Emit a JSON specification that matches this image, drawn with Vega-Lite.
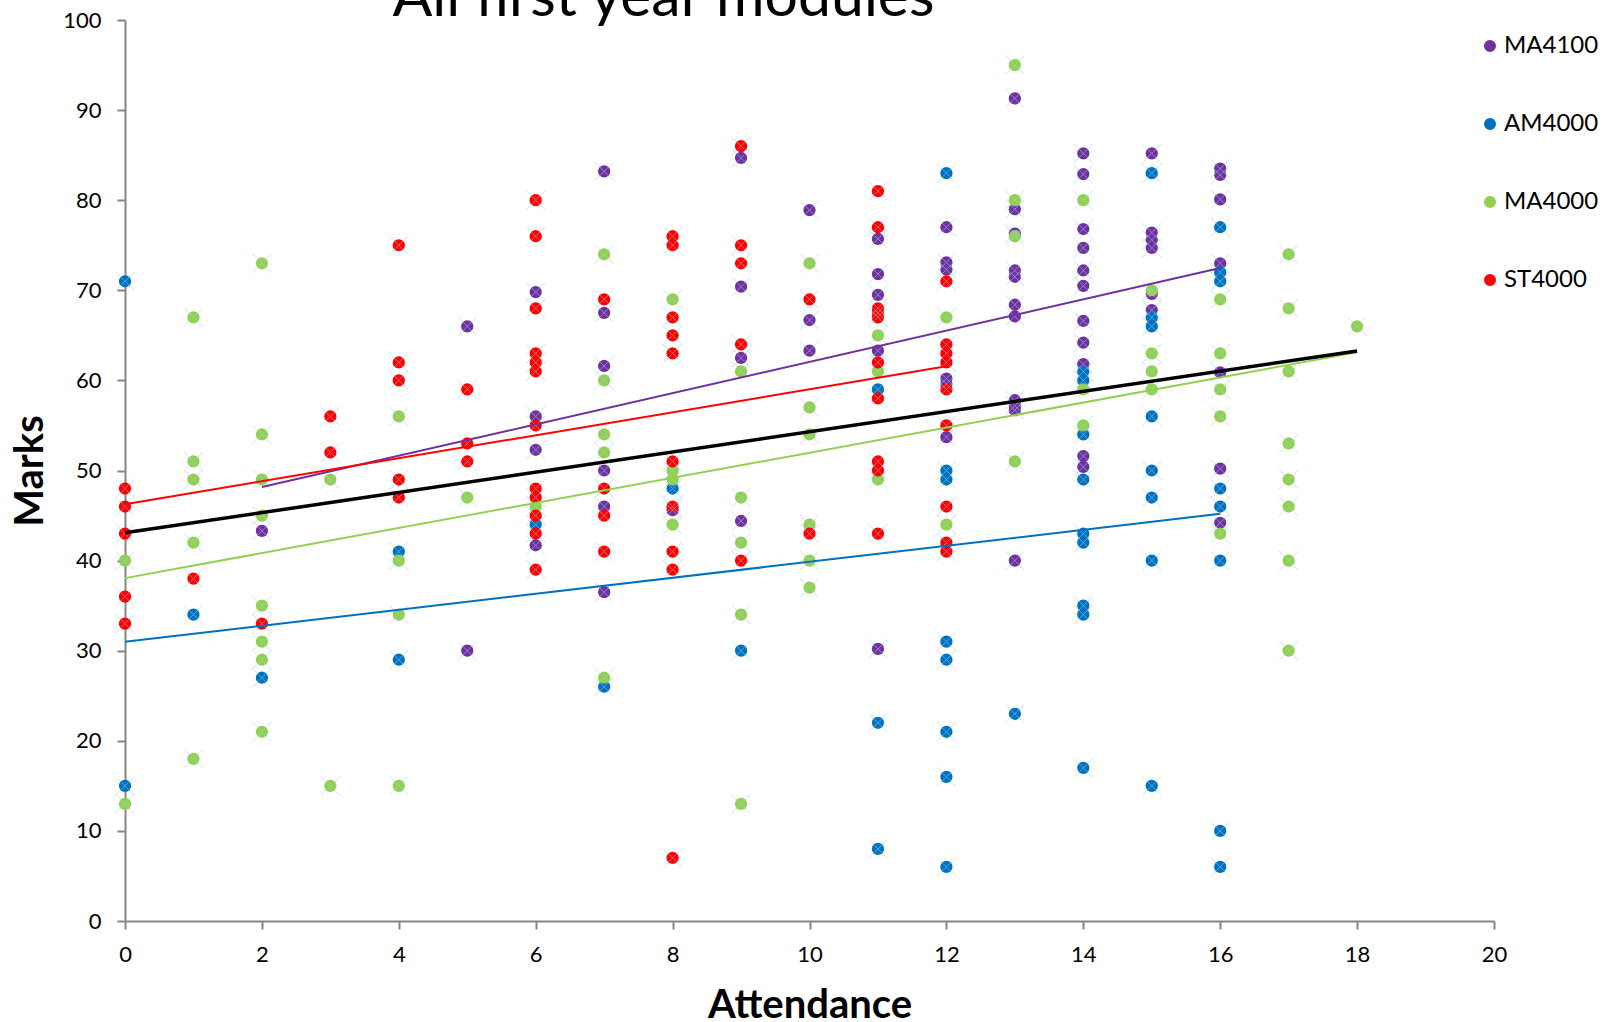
{
  "$schema": "https://vega.github.io/schema/vega-lite/v6.json",
  "width": 1369,
  "height": 901,
  "autosize": "none",
  "padding": {"left": 125, "top": 20, "right": 112, "bottom": 101},
  "background": "white",
  "title": {
    "text": "All first year modules",
    "font": "Lato",
    "fontSize": 59,
    "fontWeight": "normal",
    "color": "#000000",
    "anchor": "middle",
    "frame": "group",
    "dx": -146,
    "offset": -19
  },
  "config": {
    "view": {"stroke": null},
    "font": "Lato",
    "axis": {
      "grid": false,
      "domainColor": "#868686",
      "domainWidth": 2,
      "tickColor": "#868686",
      "tickWidth": 2,
      "tickSize": 8,
      "labelFont": "Lato",
      "labelFontSize": 22,
      "labelColor": "#000000",
      "labelFlush": false,
      "titleFont": "Lato",
      "titleFontSize": 40,
      "titleFontWeight": "bold",
      "titleColor": "#000000"
    }
  },
  "data": {
    "values": [
      {"module": "MA4100", "attendance": 2, "mark": 43.3},
      {"module": "MA4100", "attendance": 5, "mark": 66},
      {"module": "MA4100", "attendance": 5, "mark": 30},
      {"module": "MA4100", "attendance": 6, "mark": 69.8},
      {"module": "MA4100", "attendance": 6, "mark": 56},
      {"module": "MA4100", "attendance": 6, "mark": 52.3},
      {"module": "MA4100", "attendance": 6, "mark": 41.7},
      {"module": "MA4100", "attendance": 7, "mark": 83.2},
      {"module": "MA4100", "attendance": 7, "mark": 67.5},
      {"module": "MA4100", "attendance": 7, "mark": 61.6},
      {"module": "MA4100", "attendance": 7, "mark": 50},
      {"module": "MA4100", "attendance": 7, "mark": 46},
      {"module": "MA4100", "attendance": 7, "mark": 36.5},
      {"module": "MA4100", "attendance": 8, "mark": 45.6},
      {"module": "MA4100", "attendance": 9, "mark": 84.7},
      {"module": "MA4100", "attendance": 9, "mark": 70.4},
      {"module": "MA4100", "attendance": 9, "mark": 62.5},
      {"module": "MA4100", "attendance": 9, "mark": 44.4},
      {"module": "MA4100", "attendance": 10, "mark": 78.9},
      {"module": "MA4100", "attendance": 10, "mark": 66.7},
      {"module": "MA4100", "attendance": 10, "mark": 63.3},
      {"module": "MA4100", "attendance": 11, "mark": 75.7},
      {"module": "MA4100", "attendance": 11, "mark": 71.8},
      {"module": "MA4100", "attendance": 11, "mark": 69.5},
      {"module": "MA4100", "attendance": 11, "mark": 63.3},
      {"module": "MA4100", "attendance": 11, "mark": 30.2},
      {"module": "MA4100", "attendance": 12, "mark": 77},
      {"module": "MA4100", "attendance": 12, "mark": 73.1},
      {"module": "MA4100", "attendance": 12, "mark": 72.3},
      {"module": "MA4100", "attendance": 12, "mark": 60.2},
      {"module": "MA4100", "attendance": 12, "mark": 59.6},
      {"module": "MA4100", "attendance": 12, "mark": 53.7},
      {"module": "MA4100", "attendance": 13, "mark": 91.3},
      {"module": "MA4100", "attendance": 13, "mark": 79},
      {"module": "MA4100", "attendance": 13, "mark": 76.3},
      {"module": "MA4100", "attendance": 13, "mark": 72.2},
      {"module": "MA4100", "attendance": 13, "mark": 71.5},
      {"module": "MA4100", "attendance": 13, "mark": 68.4},
      {"module": "MA4100", "attendance": 13, "mark": 67.1},
      {"module": "MA4100", "attendance": 13, "mark": 57.8},
      {"module": "MA4100", "attendance": 13, "mark": 57.2},
      {"module": "MA4100", "attendance": 13, "mark": 56.7},
      {"module": "MA4100", "attendance": 13, "mark": 40},
      {"module": "MA4100", "attendance": 14, "mark": 85.2},
      {"module": "MA4100", "attendance": 14, "mark": 82.9},
      {"module": "MA4100", "attendance": 14, "mark": 76.8},
      {"module": "MA4100", "attendance": 14, "mark": 74.7},
      {"module": "MA4100", "attendance": 14, "mark": 72.2},
      {"module": "MA4100", "attendance": 14, "mark": 70.5},
      {"module": "MA4100", "attendance": 14, "mark": 66.6},
      {"module": "MA4100", "attendance": 14, "mark": 64.2},
      {"module": "MA4100", "attendance": 14, "mark": 61.8},
      {"module": "MA4100", "attendance": 14, "mark": 51.6},
      {"module": "MA4100", "attendance": 14, "mark": 50.4},
      {"module": "MA4100", "attendance": 15, "mark": 85.2},
      {"module": "MA4100", "attendance": 15, "mark": 76.4},
      {"module": "MA4100", "attendance": 15, "mark": 75.6},
      {"module": "MA4100", "attendance": 15, "mark": 74.7},
      {"module": "MA4100", "attendance": 15, "mark": 69.6},
      {"module": "MA4100", "attendance": 15, "mark": 67.8},
      {"module": "MA4100", "attendance": 16, "mark": 83.5},
      {"module": "MA4100", "attendance": 16, "mark": 82.8},
      {"module": "MA4100", "attendance": 16, "mark": 80.1},
      {"module": "MA4100", "attendance": 16, "mark": 73},
      {"module": "MA4100", "attendance": 16, "mark": 60.9},
      {"module": "MA4100", "attendance": 16, "mark": 50.2},
      {"module": "MA4100", "attendance": 16, "mark": 44.2},

      {"module": "AM4000", "attendance": 0, "mark": 71},
      {"module": "AM4000", "attendance": 0, "mark": 15},
      {"module": "AM4000", "attendance": 1, "mark": 34},
      {"module": "AM4000", "attendance": 2, "mark": 27},
      {"module": "AM4000", "attendance": 4, "mark": 41},
      {"module": "AM4000", "attendance": 4, "mark": 29},
      {"module": "AM4000", "attendance": 6, "mark": 44},
      {"module": "AM4000", "attendance": 7, "mark": 26},
      {"module": "AM4000", "attendance": 8, "mark": 48},
      {"module": "AM4000", "attendance": 9, "mark": 30},
      {"module": "AM4000", "attendance": 11, "mark": 59},
      {"module": "AM4000", "attendance": 11, "mark": 22},
      {"module": "AM4000", "attendance": 11, "mark": 8},
      {"module": "AM4000", "attendance": 12, "mark": 83},
      {"module": "AM4000", "attendance": 12, "mark": 50},
      {"module": "AM4000", "attendance": 12, "mark": 49},
      {"module": "AM4000", "attendance": 12, "mark": 31},
      {"module": "AM4000", "attendance": 12, "mark": 29},
      {"module": "AM4000", "attendance": 12, "mark": 21},
      {"module": "AM4000", "attendance": 12, "mark": 16},
      {"module": "AM4000", "attendance": 12, "mark": 6},
      {"module": "AM4000", "attendance": 13, "mark": 23},
      {"module": "AM4000", "attendance": 14, "mark": 61},
      {"module": "AM4000", "attendance": 14, "mark": 60},
      {"module": "AM4000", "attendance": 14, "mark": 54},
      {"module": "AM4000", "attendance": 14, "mark": 49},
      {"module": "AM4000", "attendance": 14, "mark": 43},
      {"module": "AM4000", "attendance": 14, "mark": 42},
      {"module": "AM4000", "attendance": 14, "mark": 35},
      {"module": "AM4000", "attendance": 14, "mark": 34},
      {"module": "AM4000", "attendance": 14, "mark": 17},
      {"module": "AM4000", "attendance": 15, "mark": 83},
      {"module": "AM4000", "attendance": 15, "mark": 67},
      {"module": "AM4000", "attendance": 15, "mark": 66},
      {"module": "AM4000", "attendance": 15, "mark": 56},
      {"module": "AM4000", "attendance": 15, "mark": 50},
      {"module": "AM4000", "attendance": 15, "mark": 47},
      {"module": "AM4000", "attendance": 15, "mark": 40},
      {"module": "AM4000", "attendance": 15, "mark": 15},
      {"module": "AM4000", "attendance": 16, "mark": 77},
      {"module": "AM4000", "attendance": 16, "mark": 72},
      {"module": "AM4000", "attendance": 16, "mark": 71},
      {"module": "AM4000", "attendance": 16, "mark": 48},
      {"module": "AM4000", "attendance": 16, "mark": 46},
      {"module": "AM4000", "attendance": 16, "mark": 40},
      {"module": "AM4000", "attendance": 16, "mark": 10},
      {"module": "AM4000", "attendance": 16, "mark": 6},

      {"module": "MA4000", "attendance": 0, "mark": 40},
      {"module": "MA4000", "attendance": 0, "mark": 13},
      {"module": "MA4000", "attendance": 1, "mark": 67},
      {"module": "MA4000", "attendance": 1, "mark": 51},
      {"module": "MA4000", "attendance": 1, "mark": 49},
      {"module": "MA4000", "attendance": 1, "mark": 42},
      {"module": "MA4000", "attendance": 1, "mark": 18},
      {"module": "MA4000", "attendance": 2, "mark": 73},
      {"module": "MA4000", "attendance": 2, "mark": 54},
      {"module": "MA4000", "attendance": 2, "mark": 49},
      {"module": "MA4000", "attendance": 2, "mark": 45},
      {"module": "MA4000", "attendance": 2, "mark": 35},
      {"module": "MA4000", "attendance": 2, "mark": 31},
      {"module": "MA4000", "attendance": 2, "mark": 29},
      {"module": "MA4000", "attendance": 2, "mark": 21},
      {"module": "MA4000", "attendance": 3, "mark": 49},
      {"module": "MA4000", "attendance": 3, "mark": 15},
      {"module": "MA4000", "attendance": 4, "mark": 56},
      {"module": "MA4000", "attendance": 4, "mark": 40},
      {"module": "MA4000", "attendance": 4, "mark": 34},
      {"module": "MA4000", "attendance": 4, "mark": 15},
      {"module": "MA4000", "attendance": 5, "mark": 47},
      {"module": "MA4000", "attendance": 6, "mark": 46},
      {"module": "MA4000", "attendance": 7, "mark": 74},
      {"module": "MA4000", "attendance": 7, "mark": 60},
      {"module": "MA4000", "attendance": 7, "mark": 54},
      {"module": "MA4000", "attendance": 7, "mark": 52},
      {"module": "MA4000", "attendance": 7, "mark": 27},
      {"module": "MA4000", "attendance": 8, "mark": 69},
      {"module": "MA4000", "attendance": 8, "mark": 50},
      {"module": "MA4000", "attendance": 8, "mark": 49},
      {"module": "MA4000", "attendance": 8, "mark": 44},
      {"module": "MA4000", "attendance": 9, "mark": 61},
      {"module": "MA4000", "attendance": 9, "mark": 47},
      {"module": "MA4000", "attendance": 9, "mark": 42},
      {"module": "MA4000", "attendance": 9, "mark": 34},
      {"module": "MA4000", "attendance": 9, "mark": 13},
      {"module": "MA4000", "attendance": 10, "mark": 73},
      {"module": "MA4000", "attendance": 10, "mark": 57},
      {"module": "MA4000", "attendance": 10, "mark": 54},
      {"module": "MA4000", "attendance": 10, "mark": 44},
      {"module": "MA4000", "attendance": 10, "mark": 40},
      {"module": "MA4000", "attendance": 10, "mark": 37},
      {"module": "MA4000", "attendance": 11, "mark": 65},
      {"module": "MA4000", "attendance": 11, "mark": 61},
      {"module": "MA4000", "attendance": 11, "mark": 49},
      {"module": "MA4000", "attendance": 12, "mark": 67},
      {"module": "MA4000", "attendance": 12, "mark": 44},
      {"module": "MA4000", "attendance": 13, "mark": 95},
      {"module": "MA4000", "attendance": 13, "mark": 80},
      {"module": "MA4000", "attendance": 13, "mark": 76},
      {"module": "MA4000", "attendance": 13, "mark": 51},
      {"module": "MA4000", "attendance": 14, "mark": 80},
      {"module": "MA4000", "attendance": 14, "mark": 59},
      {"module": "MA4000", "attendance": 14, "mark": 55},
      {"module": "MA4000", "attendance": 15, "mark": 70},
      {"module": "MA4000", "attendance": 15, "mark": 63},
      {"module": "MA4000", "attendance": 15, "mark": 61},
      {"module": "MA4000", "attendance": 15, "mark": 59},
      {"module": "MA4000", "attendance": 16, "mark": 69},
      {"module": "MA4000", "attendance": 16, "mark": 63},
      {"module": "MA4000", "attendance": 16, "mark": 59},
      {"module": "MA4000", "attendance": 16, "mark": 56},
      {"module": "MA4000", "attendance": 16, "mark": 43},
      {"module": "MA4000", "attendance": 17, "mark": 74},
      {"module": "MA4000", "attendance": 17, "mark": 68},
      {"module": "MA4000", "attendance": 17, "mark": 61},
      {"module": "MA4000", "attendance": 17, "mark": 53},
      {"module": "MA4000", "attendance": 17, "mark": 49},
      {"module": "MA4000", "attendance": 17, "mark": 46},
      {"module": "MA4000", "attendance": 17, "mark": 40},
      {"module": "MA4000", "attendance": 17, "mark": 30},
      {"module": "MA4000", "attendance": 18, "mark": 66},

      {"module": "ST4000", "attendance": 0, "mark": 48},
      {"module": "ST4000", "attendance": 0, "mark": 46},
      {"module": "ST4000", "attendance": 0, "mark": 43},
      {"module": "ST4000", "attendance": 0, "mark": 36},
      {"module": "ST4000", "attendance": 0, "mark": 33},
      {"module": "ST4000", "attendance": 1, "mark": 38},
      {"module": "ST4000", "attendance": 2, "mark": 33},
      {"module": "ST4000", "attendance": 3, "mark": 56},
      {"module": "ST4000", "attendance": 3, "mark": 52},
      {"module": "ST4000", "attendance": 4, "mark": 75},
      {"module": "ST4000", "attendance": 4, "mark": 62},
      {"module": "ST4000", "attendance": 4, "mark": 60},
      {"module": "ST4000", "attendance": 4, "mark": 49},
      {"module": "ST4000", "attendance": 4, "mark": 47},
      {"module": "ST4000", "attendance": 5, "mark": 59},
      {"module": "ST4000", "attendance": 5, "mark": 53},
      {"module": "ST4000", "attendance": 5, "mark": 51},
      {"module": "ST4000", "attendance": 6, "mark": 80},
      {"module": "ST4000", "attendance": 6, "mark": 76},
      {"module": "ST4000", "attendance": 6, "mark": 68},
      {"module": "ST4000", "attendance": 6, "mark": 63},
      {"module": "ST4000", "attendance": 6, "mark": 62},
      {"module": "ST4000", "attendance": 6, "mark": 61},
      {"module": "ST4000", "attendance": 6, "mark": 55},
      {"module": "ST4000", "attendance": 6, "mark": 48},
      {"module": "ST4000", "attendance": 6, "mark": 47},
      {"module": "ST4000", "attendance": 6, "mark": 45},
      {"module": "ST4000", "attendance": 6, "mark": 43},
      {"module": "ST4000", "attendance": 6, "mark": 39},
      {"module": "ST4000", "attendance": 7, "mark": 69},
      {"module": "ST4000", "attendance": 7, "mark": 48},
      {"module": "ST4000", "attendance": 7, "mark": 45},
      {"module": "ST4000", "attendance": 7, "mark": 41},
      {"module": "ST4000", "attendance": 8, "mark": 76},
      {"module": "ST4000", "attendance": 8, "mark": 75},
      {"module": "ST4000", "attendance": 8, "mark": 67},
      {"module": "ST4000", "attendance": 8, "mark": 65},
      {"module": "ST4000", "attendance": 8, "mark": 63},
      {"module": "ST4000", "attendance": 8, "mark": 51},
      {"module": "ST4000", "attendance": 8, "mark": 46},
      {"module": "ST4000", "attendance": 8, "mark": 41},
      {"module": "ST4000", "attendance": 8, "mark": 39},
      {"module": "ST4000", "attendance": 8, "mark": 7},
      {"module": "ST4000", "attendance": 9, "mark": 86},
      {"module": "ST4000", "attendance": 9, "mark": 75},
      {"module": "ST4000", "attendance": 9, "mark": 73},
      {"module": "ST4000", "attendance": 9, "mark": 64},
      {"module": "ST4000", "attendance": 9, "mark": 40},
      {"module": "ST4000", "attendance": 10, "mark": 69},
      {"module": "ST4000", "attendance": 10, "mark": 43},
      {"module": "ST4000", "attendance": 11, "mark": 81},
      {"module": "ST4000", "attendance": 11, "mark": 77},
      {"module": "ST4000", "attendance": 11, "mark": 68},
      {"module": "ST4000", "attendance": 11, "mark": 67.5},
      {"module": "ST4000", "attendance": 11, "mark": 67},
      {"module": "ST4000", "attendance": 11, "mark": 62},
      {"module": "ST4000", "attendance": 11, "mark": 58},
      {"module": "ST4000", "attendance": 11, "mark": 51},
      {"module": "ST4000", "attendance": 11, "mark": 50},
      {"module": "ST4000", "attendance": 11, "mark": 43},
      {"module": "ST4000", "attendance": 12, "mark": 71},
      {"module": "ST4000", "attendance": 12, "mark": 64},
      {"module": "ST4000", "attendance": 12, "mark": 63},
      {"module": "ST4000", "attendance": 12, "mark": 62},
      {"module": "ST4000", "attendance": 12, "mark": 59},
      {"module": "ST4000", "attendance": 12, "mark": 55},
      {"module": "ST4000", "attendance": 12, "mark": 46},
      {"module": "ST4000", "attendance": 12, "mark": 42},
      {"module": "ST4000", "attendance": 12, "mark": 41}
    ]
  },
  "encoding": {
    "x": {
      "field": "attendance",
      "type": "quantitative",
      "title": "Attendance",
      "scale": {"domain": [0, 20], "nice": false, "zero": true},
      "axis": {"values": [0, 2, 4, 6, 8, 10, 12, 14, 16, 18, 20], "labelPadding": 15, "titlePadding": 20}
    },
    "y": {
      "field": "mark",
      "type": "quantitative",
      "title": "Marks",
      "scale": {"domain": [0, 100], "nice": false},
      "axis": {"values": [0, 10, 20, 30, 40, 50, 60, 70, 80, 90, 100], "labelPadding": 16, "titlePadding": 12}
    }
  },
  "layer": [
    {
      "mark": {"type": "point", "shape": "circle", "filled": true, "size": 150, "opacity": 1},
      "encoding": {
        "color": {
          "field": "module",
          "type": "nominal",
          "scale": {
            "domain": ["MA4100", "AM4000", "MA4000", "ST4000"],
            "range": ["#7030A0", "#0070C0", "#92D050", "#FF0000"]
          },
          "legend": {
            "title": null,
            "orient": "none",
            "legendX": 1353,
            "legendY": 14,
            "symbolType": "circle",
            "symbolSize": 110,
            "symbolOpacity": 1,
            "labelFont": "Lato",
            "labelFontSize": 24,
            "labelColor": "#000000",
            "labelOffset": 2,
            "rowPadding": 54,
            "padding": 0
          }
        }
      }
    },
    {
      "mark": {
        "type": "point",
        "shape": "M-1,-1L1,1M-1,1L1,-1",
        "filled": false,
        "size": 360,
        "stroke": "#9fd3ea",
        "strokeWidth": 1,
        "opacity": 0.55
      }
    },
    {
      "transform": [
        {"regression": "mark", "on": "attendance", "groupby": ["module"]}
      ],
      "mark": {"type": "line", "strokeWidth": 2},
      "encoding": {
        "color": {"field": "module", "type": "nominal", "legend": null}
      }
    },
    {
      "transform": [
        {"regression": "mark", "on": "attendance"}
      ],
      "mark": {"type": "line", "color": "#000000", "strokeWidth": 3.5},
      "encoding": {}
    }
  ]
}
